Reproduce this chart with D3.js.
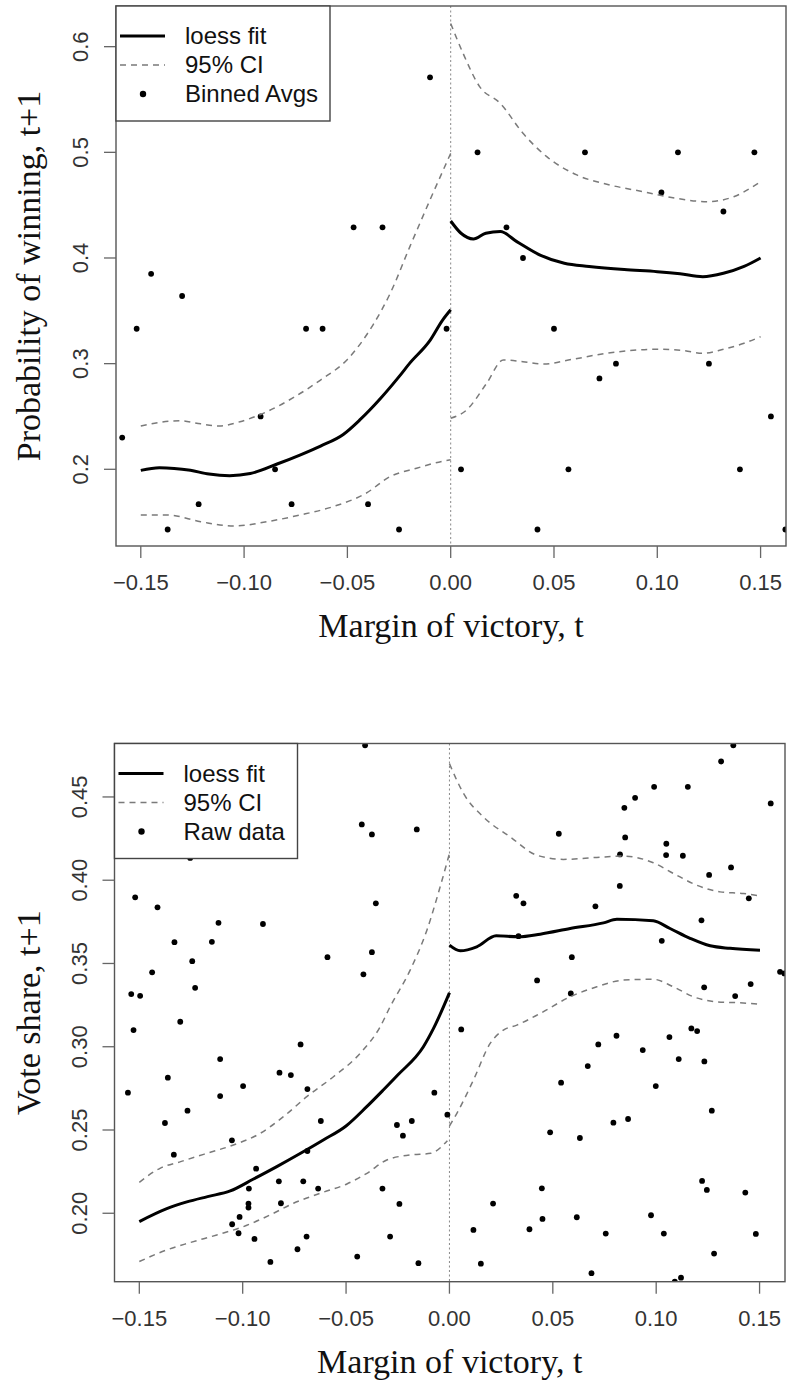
<!DOCTYPE html>
<html>
<head>
<meta charset="utf-8">
<script src="https://cdn.jsdelivr.net/npm/d3@7"></script>
<style>
  body { margin: 0; background: #fff; }
  svg { display: block; }
</style>
</head>
<body>
<div id="chart-area"></div>
<script>
// x axis is shared by both panels
var xTicks = [-0.15, -0.10, -0.05, 0.00, 0.05, 0.10, 0.15];
var winTicks = [0.2, 0.3, 0.4, 0.5, 0.6];
var shareTicks = [0.20, 0.25, 0.30, 0.35, 0.40, 0.45];

// top panel: probability of winning
var winDots = [
  [-0.159,0.230],[-0.152,0.333],[-0.145,0.385],[-0.137,0.143],[-0.130,0.364],[-0.122,0.167],
  [-0.092,0.250],[-0.085,0.200],[-0.077,0.167],[-0.070,0.333],[-0.062,0.333],[-0.047,0.429],
  [-0.040,0.167],[-0.033,0.429],[-0.025,0.143],[-0.010,0.571],[-0.002,0.333],
  [0.005,0.200],[0.013,0.500],[0.027,0.429],[0.035,0.400],[0.042,0.143],[0.050,0.333],
  [0.057,0.200],[0.065,0.500],[0.072,0.286],[0.080,0.300],[0.102,0.462],[0.110,0.500],
  [0.125,0.300],[0.132,0.444],[0.140,0.200],[0.147,0.500],[0.155,0.250],[0.162,0.143]
];
var winFitLeft = [
  [-0.150,0.199],[-0.141,0.2015],[-0.126,0.199],[-0.117,0.1955],[-0.107,0.194],[-0.097,0.196],
  [-0.084,0.205],[-0.073,0.2135],[-0.063,0.222],[-0.052,0.233],[-0.044,0.2467],[-0.034,0.267],
  [-0.025,0.2877],[-0.020,0.300],[-0.010,0.322],[-0.004,0.341],[0.000,0.351]
];
var winFitRight = [
  [0.000,0.435],[0.005,0.4234],[0.011,0.418],[0.017,0.4234],[0.024,0.425],[0.032,0.4155],
  [0.043,0.403],[0.055,0.395],[0.067,0.392],[0.084,0.389],[0.100,0.387],[0.111,0.385],
  [0.122,0.3823],[0.132,0.3855],[0.142,0.392],[0.150,0.400]
];
var winUpperLeft = [
  [-0.150,0.241],[-0.131,0.246],[-0.121,0.243],[-0.112,0.241],[-0.102,0.245],[-0.089,0.2545],
  [-0.076,0.268],[-0.063,0.2845],[-0.050,0.304],[-0.0375,0.337],[-0.0294,0.366],[-0.0197,0.411],
  [-0.010,0.455],[0.000,0.499]
];
var winLowerLeft = [
  [-0.150,0.1567],[-0.137,0.1567],[-0.121,0.1504],[-0.105,0.1463],[-0.089,0.1504],[-0.073,0.1567],
  [-0.057,0.1646],[-0.041,0.1773],[-0.0294,0.193],[-0.0165,0.201],[-0.003,0.208],[0.000,0.209]
];
var winUpperRight = [
  [0.000,0.622],[0.006,0.5937],[0.014,0.5622],[0.024,0.5464],[0.035,0.518],[0.0465,0.4959],
  [0.061,0.4786],[0.077,0.4691],[0.093,0.4628],[0.109,0.4565],[0.124,0.4533],[0.137,0.458],
  [0.150,0.4722]
];
var winLowerRight = [
  [0.000,0.2483],[0.0077,0.2561],[0.0174,0.2814],[0.0255,0.3035],[0.035,0.3018],[0.045,0.2997],
  [0.059,0.3041],[0.0755,0.3098],[0.100,0.3136],[0.113,0.3123],[0.122,0.3098],[0.132,0.3136],
  [0.142,0.3193],[0.150,0.3255]
];

// bottom panel: vote share
var shareDots = [
  [-0.0408,0.481],[-0.0424,0.4335],[-0.0375,0.4275],[-0.1254,0.4134],[-0.152,0.3897],[-0.1412,0.3837],
  [-0.0356,0.3861],[-0.1117,0.3744],[-0.0902,0.3737],[-0.133,0.3628],[-0.1149,0.363],[-0.1244,0.3514],
  [-0.059,0.3538],[-0.0375,0.3568],[-0.1438,0.3447],[-0.0416,0.3435],[-0.123,0.3354],[-0.1539,0.3316],
  [-0.1496,0.3306],[-0.1302,0.315],[-0.1528,0.310],[-0.1555,0.2724],[-0.1362,0.2814],[-0.1109,0.2926],
  [-0.1109,0.2704],[-0.0998,0.2764],[-0.072,0.3014],[-0.0822,0.2844],[-0.0767,0.283],[-0.0687,0.2746],
  [-0.1267,0.2616],[-0.1376,0.2542],[-0.0622,0.2554],[-0.0254,0.253],[-0.1052,0.2438],[-0.1333,0.2352],
  [-0.0687,0.2374],[-0.0935,0.2268],[-0.097,0.2148],[-0.0825,0.2192],[-0.0707,0.2192],[-0.0635,0.2148],
  [-0.0324,0.2148],[-0.0972,0.2058],[-0.0972,0.2034],[-0.0815,0.206],[-0.0242,0.2056],[-0.1051,0.1934],
  [-0.1015,0.1978],[-0.102,0.188],[-0.0943,0.1846],[-0.0691,0.186],[-0.0735,0.1784],[-0.0287,0.186],
  [-0.0866,0.1708],[-0.0446,0.174],[-0.0073,0.2724],[-0.001,0.2592],[-0.0225,0.2466],[-0.0182,0.2554],
  [-0.015,0.170],[-0.0158,0.4305],
  [0.0057,0.3104],[0.0116,0.190],[0.0152,0.1697],[0.0211,0.2058],[0.0387,0.1904],[0.0447,0.215],
  [0.045,0.1966],[0.0487,0.2486],[0.054,0.2784],[0.0616,0.1976],[0.0631,0.2452],[0.0669,0.2884],
  [0.0687,0.164],[0.072,0.3014],[0.0756,0.1878],[0.0793,0.2544],[0.0808,0.3066],[0.0864,0.2566],
  [0.0935,0.298],[0.0975,0.1988],[0.0998,0.2764],[0.1037,0.1878],[0.1064,0.3058],[0.1109,0.2926],
  [0.112,0.1613],[0.109,0.159],[0.117,0.311],[0.1198,0.3094],[0.1222,0.2194],[0.1245,0.214],
  [0.1233,0.2912],[0.1269,0.2616],[0.128,0.1758],[0.1431,0.2124],[0.1482,0.1876],
  [0.1373,0.481],[0.1314,0.4713],[0.099,0.4561],[0.1153,0.4561],[0.0898,0.4495],[0.0846,0.4435],
  [0.1554,0.4461],[0.0529,0.4279],[0.085,0.4257],[0.1049,0.4219],[0.1048,0.4151],[0.1129,0.4147],
  [0.0825,0.4155],[0.1256,0.4032],[0.1362,0.4077],[0.1448,0.3891],[0.0824,0.3966],[0.0323,0.3906],
  [0.0358,0.3861],[0.0706,0.3843],[0.1219,0.3759],[0.1027,0.3636],[0.0334,0.3664],[0.0592,0.3538],
  [0.1599,0.345],[0.162,0.344],[0.0424,0.3398],[0.0587,0.332],[0.1232,0.3357],[0.1457,0.3376],
  [0.1382,0.3304]
];
var shareFitLeft = [
  [-0.150,0.195],[-0.137,0.2026],[-0.127,0.2068],[-0.117,0.210],[-0.106,0.2134],[-0.095,0.2204],
  [-0.0835,0.228],[-0.072,0.236],[-0.061,0.244],[-0.050,0.2524],[-0.040,0.264],[-0.032,0.274],
  [-0.025,0.283],[-0.0126,0.300],[-0.0077,0.311],[0.000,0.3324]
];
var shareFitRight = [
  [0.000,0.361],[0.0052,0.3576],[0.0132,0.360],[0.0226,0.3666],[0.0334,0.366],[0.0439,0.3676],
  [0.0584,0.371],[0.0745,0.3744],[0.081,0.3765],[0.0986,0.3756],[0.1067,0.371],[0.1164,0.3651],
  [0.1261,0.3606],[0.1357,0.3591],[0.1502,0.358]
];
var shareUpperLeft = [
  [-0.150,0.2186],[-0.140,0.227],[-0.130,0.231],[-0.1173,0.236],[-0.1045,0.241],[-0.0915,0.248],
  [-0.0803,0.258],[-0.069,0.270],[-0.0561,0.282],[-0.0432,0.296],[-0.0335,0.312],[-0.0287,0.324],
  [-0.019,0.346],[-0.0109,0.370],[-0.0045,0.396],[0.000,0.416]
];
var shareLowerLeft = [
  [-0.150,0.171],[-0.1367,0.178],[-0.1254,0.1824],[-0.1125,0.187],[-0.0996,0.192],[-0.0867,0.199],
  [-0.0754,0.206],[-0.0625,0.212],[-0.0496,0.2176],[-0.0399,0.224],[-0.0303,0.232],[-0.019,0.235],
  [-0.009,0.236],[-0.001,0.2436]
];
var shareUpperRight = [
  [0.000,0.470],[0.0068,0.4521],[0.0164,0.438],[0.0294,0.426],[0.0423,0.415],[0.0551,0.4125],
  [0.0713,0.4137],[0.0841,0.4145],[0.0986,0.4105],[0.1083,0.4041],[0.1196,0.397],[0.1309,0.393],
  [0.1422,0.392],[0.1502,0.3906]
];
var shareLowerRight = [
  [0.000,0.2524],[0.0036,0.260],[0.0116,0.280],[0.0197,0.302],[0.0261,0.310],[0.0326,0.313],
  [0.0439,0.320],[0.0584,0.330],[0.0713,0.336],[0.0841,0.340],[0.0986,0.3405],[0.1083,0.336],
  [0.118,0.330],[0.1293,0.327],[0.1406,0.3264],[0.1502,0.3256]
];

var sans = "'Liberation Sans', Arial, Helvetica, sans-serif";
var serif = "'Liberation Serif', 'Times New Roman', serif";

var svg = d3.select("#chart-area")
    .append("svg")
        .attr("width", 787)
        .attr("height", 1382);

function panel(p){
    var x = d3.scaleLinear().domain([-0.162, 0.1623]).range([p.left, p.right]);
    var y = d3.scaleLinear().domain(p.yDomain).range([p.bottom, p.top]);
    var g = svg.append("g");

    var clipId = "clip-" + p.id;
    g.append("clipPath").attr("id", clipId)
      .append("rect")
        .attr("x", p.left).attr("y", p.top)
        .attr("width", p.right - p.left).attr("height", p.bottom - p.top);

    var plot = g.append("g").attr("clip-path", "url(#" + clipId + ")");

    // cutoff at zero
    plot.append("line")
        .attr("x1", x(0)).attr("x2", x(0))
        .attr("y1", p.top).attr("y2", p.bottom)
        .attr("stroke", "#888")
        .attr("stroke-width", 1)
        .attr("stroke-dasharray", "2,2.5");

    plot.selectAll("circle.dot").data(p.dots).enter().append("circle")
        .attr("class", "dot")
        .attr("cx", function(d){ return x(d[0]); })
        .attr("cy", function(d){ return y(d[1]); })
        .attr("r", 2.9)
        .attr("fill", "#000");

    var line = d3.line()
        .x(function(d){ return x(d[0]); })
        .y(function(d){ return y(d[1]); })
        .curve(d3.curveMonotoneX);

    p.ci.forEach(function(s){
        plot.append("path").datum(s)
            .attr("d", line)
            .attr("fill", "none")
            .attr("stroke", "#7a7a7a")
            .attr("stroke-width", 1.5)
            .attr("stroke-dasharray", "6,5");
    });
    p.fits.forEach(function(s){
        plot.append("path").datum(s)
            .attr("d", line)
            .attr("fill", "none")
            .attr("stroke", "#000")
            .attr("stroke-width", 3)
            .attr("stroke-linejoin", "round");
    });

    // frame
    g.append("rect")
        .attr("x", p.left).attr("y", p.top)
        .attr("width", p.right - p.left).attr("height", p.bottom - p.top)
        .attr("fill", "none")
        .attr("stroke", "#555")
        .attr("stroke-width", 1.4);

    // x axis ticks + labels
    xTicks.forEach(function(t){
        g.append("line")
            .attr("x1", x(t)).attr("x2", x(t))
            .attr("y1", p.bottom).attr("y2", p.bottom + 12)
            .attr("stroke", "#666").attr("stroke-width", 1.3);
        g.append("text")
            .attr("x", x(t)).attr("y", p.bottom + 44)
            .attr("text-anchor", "middle")
            .attr("font-family", sans)
            .attr("font-size", "22px")
            .attr("fill", "#333")
            .text(d3.format(".2f")(t));
    });

    // y axis ticks + labels (rotated, R style)
    p.yTicks.forEach(function(t){
        g.append("line")
            .attr("x1", p.left - 12).attr("x2", p.left)
            .attr("y1", y(t)).attr("y2", y(t))
            .attr("stroke", "#666").attr("stroke-width", 1.3);
        g.append("text")
            .attr("transform", "translate(" + (p.left - 28) + "," + y(t) + ") rotate(-90)")
            .attr("text-anchor", "middle")
            .attr("font-family", sans)
            .attr("font-size", "22px")
            .attr("fill", "#333")
            .text(d3.format(p.yFormat)(t));
    });

    // titles
    g.append("text")
        .attr("x", (p.left + p.right) / 2)
        .attr("y", p.bottom + 91)
        .attr("text-anchor", "middle")
        .attr("font-family", serif)
        .attr("font-size", "34px")
        .attr("fill", "#111")
        .text("Margin of victory, t");
    g.append("text")
        .attr("transform", "translate(40," + ((p.top + p.bottom) / 2) + ") rotate(-90)")
        .attr("text-anchor", "middle")
        .attr("font-family", serif)
        .attr("font-size", "34px")
        .attr("fill", "#111")
        .text(p.yTitle);

    // legend
    var lg = g.append("g").attr("transform", "translate(" + p.left + "," + p.top + ")");
    lg.append("rect")
        .attr("width", p.legendWidth).attr("height", 115)
        .attr("fill", "#fff")
        .attr("stroke", "#444")
        .attr("stroke-width", 1.4);
    var rows = ["loess fit", "95% CI", p.dotLabel];
    rows.forEach(function(label, i){
        var ry = 30 + i * 29;
        if (i == 0) {
            lg.append("line").attr("x1", 4).attr("x2", 49).attr("y1", ry).attr("y2", ry)
                .attr("stroke", "#000").attr("stroke-width", 3);
        } else if (i == 1) {
            lg.append("line").attr("x1", 4).attr("x2", 49).attr("y1", ry).attr("y2", ry)
                .attr("stroke", "#7a7a7a").attr("stroke-width", 1.5)
                .attr("stroke-dasharray", "6,5");
        } else {
            lg.append("circle").attr("cx", 27).attr("cy", ry).attr("r", 3.2).attr("fill", "#000");
        }
        lg.append("text")
            .attr("x", 69).attr("y", ry + 8)
            .attr("font-family", sans)
            .attr("font-size", "24px")
            .attr("fill", "#111")
            .text(label);
    });
}

panel({
    id: "win",
    left: 116, right: 786, top: 6, bottom: 546,
    yDomain: [0.1274, 0.6385],
    yTicks: winTicks, yFormat: ".1f",
    yTitle: "Probability of winning, t+1",
    dots: winDots,
    fits: [winFitLeft, winFitRight],
    ci: [winUpperLeft, winLowerLeft, winUpperRight, winLowerRight],
    dotLabel: "Binned Avgs",
    legendWidth: 214
});

panel({
    id: "share",
    left: 114.5, right: 785, top: 743.5, bottom: 1281.7,
    yDomain: [0.1589, 0.4821],
    yTicks: shareTicks, yFormat: ".2f",
    yTitle: "Vote share, t+1",
    dots: shareDots,
    fits: [shareFitLeft, shareFitRight],
    ci: [shareUpperLeft, shareLowerLeft, shareUpperRight, shareLowerRight],
    dotLabel: "Raw data",
    legendWidth: 183
});
</script>
</body>
</html>
